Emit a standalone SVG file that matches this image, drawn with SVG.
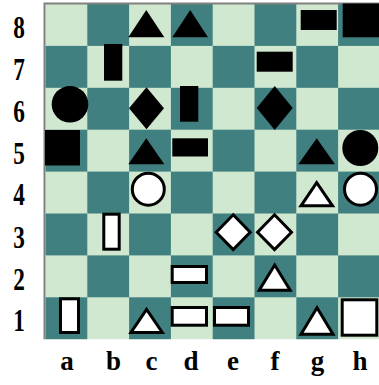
<svg xmlns="http://www.w3.org/2000/svg" width="379" height="385" viewBox="0 0 379 385">
<style>
.light{fill:#d0e8d0}
.dark{fill:#408080}
.blk{fill:#000}
.wht{fill:#fff;stroke:#000;stroke-width:3}
.rank{font-family:"Liberation Serif",serif;font-weight:bold;font-size:31px;fill:#000;text-anchor:middle}
.file{font-family:"Liberation Serif",serif;font-weight:bold;font-size:27px;fill:#000;text-anchor:middle}
</style>
<rect width="379" height="385" fill="#fff"/>
<g id="board">
<rect class="light" x="45.5" y="4" width="334" height="335.2"/>
<g class="dark">
<rect x="87.3" y="4" width="41.8" height="41.9"/><rect x="170.9" y="4" width="41.8" height="41.9"/><rect x="254.5" y="4" width="41.8" height="41.9"/><rect x="338.1" y="4" width="41.8" height="41.9"/>
<rect x="45.5" y="45.9" width="41.8" height="41.9"/><rect x="129.1" y="45.9" width="41.8" height="41.9"/><rect x="212.7" y="45.9" width="41.8" height="41.9"/><rect x="296.3" y="45.9" width="41.8" height="41.9"/>
<rect x="87.3" y="87.8" width="41.8" height="41.9"/><rect x="170.9" y="87.8" width="41.8" height="41.9"/><rect x="254.5" y="87.8" width="41.8" height="41.9"/><rect x="338.1" y="87.8" width="41.8" height="41.9"/>
<rect x="45.5" y="129.7" width="41.8" height="41.9"/><rect x="129.1" y="129.7" width="41.8" height="41.9"/><rect x="212.7" y="129.7" width="41.8" height="41.9"/><rect x="296.3" y="129.7" width="41.8" height="41.9"/>
<rect x="87.3" y="171.6" width="41.8" height="41.9"/><rect x="170.9" y="171.6" width="41.8" height="41.9"/><rect x="254.5" y="171.6" width="41.8" height="41.9"/><rect x="338.1" y="171.6" width="41.8" height="41.9"/>
<rect x="45.5" y="213.5" width="41.8" height="41.9"/><rect x="129.1" y="213.5" width="41.8" height="41.9"/><rect x="212.7" y="213.5" width="41.8" height="41.9"/><rect x="296.3" y="213.5" width="41.8" height="41.9"/>
<rect x="87.3" y="255.4" width="41.8" height="41.9"/><rect x="170.9" y="255.4" width="41.8" height="41.9"/><rect x="254.5" y="255.4" width="41.8" height="41.9"/><rect x="338.1" y="255.4" width="41.8" height="41.9"/>
<rect x="45.5" y="297.3" width="41.8" height="41.9"/><rect x="129.1" y="297.3" width="41.8" height="41.9"/><rect x="212.7" y="297.3" width="41.8" height="41.9"/><rect x="296.3" y="297.3" width="41.8" height="41.9"/>
</g>
<path d="M44.5,339.2 V3.5 H379" fill="none" stroke="#808080" stroke-width="2"/>
</g>
<g id="ranks">
<text class="rank" transform="translate(19,38) scale(0.75,1)">8</text>
<text class="rank" transform="translate(19,80) scale(0.75,1)">7</text>
<text class="rank" transform="translate(19,122) scale(0.75,1)">6</text>
<text class="rank" transform="translate(19,164) scale(0.75,1)">5</text>
<text class="rank" transform="translate(19,205) scale(0.75,1)">4</text>
<text class="rank" transform="translate(19,247.5) scale(0.75,1)">3</text>
<text class="rank" transform="translate(19,289.5) scale(0.75,1)">2</text>
<text class="rank" transform="translate(19,330.5) scale(0.75,1)">1</text>
</g>
<g id="files">
<text class="file" x="67" y="370">a</text>
<text class="file" x="113.5" y="370">b</text>
<text class="file" x="151.5" y="370">c</text>
<text class="file" x="191" y="370">d</text>
<text class="file" x="233" y="370">e</text>
<text class="file" x="275" y="370">f</text>
<text class="file" x="317.5" y="370">g</text>
<text class="file" x="360" y="370">h</text>
</g>
<g id="pieces">
<g id="c8"><polygon class="blk" points="146.3,10 128.3,37.3 164.3,37.3"/></g>
<g id="d8"><polygon class="blk" points="190.2,10 172.3,37.3 208,37.3"/></g>
<g id="g8"><rect class="blk" x="300.7" y="10" width="36" height="20"/></g>
<g id="h8"><rect class="blk" x="342.7" y="3.5" width="36.3" height="33.8"/></g>
<g id="b7"><rect class="blk" x="104" y="44" width="18.3" height="36.7"/></g>
<g id="f7"><rect class="blk" x="256.7" y="51.7" width="36" height="20"/></g>
<g id="a6"><circle class="blk" cx="70" cy="104.3" r="18.3"/></g>
<g id="c6"><polygon class="blk" points="146.5,87.3 164,108.3 146.5,129.3 129,108.3"/></g>
<g id="d6"><rect class="blk" x="180" y="86" width="18.3" height="35.7"/></g>
<g id="f6"><polygon class="blk" points="274.7,86 292.7,108 274.7,130 256.7,108"/></g>
<g id="a5"><rect class="blk" x="45" y="130" width="35" height="35.5"/></g>
<g id="c5"><polygon class="blk" points="146.3,138.3 128.3,164.3 164.3,164.3"/></g>
<g id="d5"><rect class="blk" x="172.3" y="138.3" width="35.7" height="18.2"/></g>
<g id="g5"><polygon class="blk" points="316.7,138.3 298.3,164.3 335,164.3"/></g>
<g id="h5"><circle class="blk" cx="360.3" cy="148" r="18"/></g>
<g id="c4"><circle class="wht" cx="148.3" cy="189.2" r="16"/></g>
<g id="g4"><polygon class="wht" points="316.7,182.7 301,205.8 332.5,205.8"/></g>
<g id="h4"><circle class="wht" cx="360.5" cy="189.2" r="16"/></g>
<g id="b3"><rect class="wht" x="103.8" y="214.2" width="15.4" height="35"/></g>
<g id="e3"><polygon class="wht" points="233.2,214.8 250.2,232.2 233.2,249.6 216.2,232.2"/></g>
<g id="f3"><polygon class="wht" points="274.5,214.8 291.5,232.2 274.5,249.6 257.5,232.2"/></g>
<g id="d2"><rect class="wht" x="172.2" y="266.5" width="34.3" height="16"/></g>
<g id="f2"><polygon class="wht" points="274.7,265 259.2,290.2 290.2,290.2"/></g>
<g id="a1"><rect class="wht" x="60.5" y="298.8" width="18" height="33.7"/></g>
<g id="c1"><polygon class="wht" points="146.6,309.4 131,332.5 162.3,332.5"/></g>
<g id="d1"><rect class="wht" x="172.2" y="307.5" width="34.3" height="17.7"/></g>
<g id="e1"><rect class="wht" x="214.5" y="307.5" width="34" height="17.7"/></g>
<g id="g1"><polygon class="wht" points="317,307.7 301,334.2 333,334.2"/></g>
<g id="h1"><rect class="wht" x="342.2" y="299.8" width="34.6" height="35.4"/></g>
</g>
</svg>
